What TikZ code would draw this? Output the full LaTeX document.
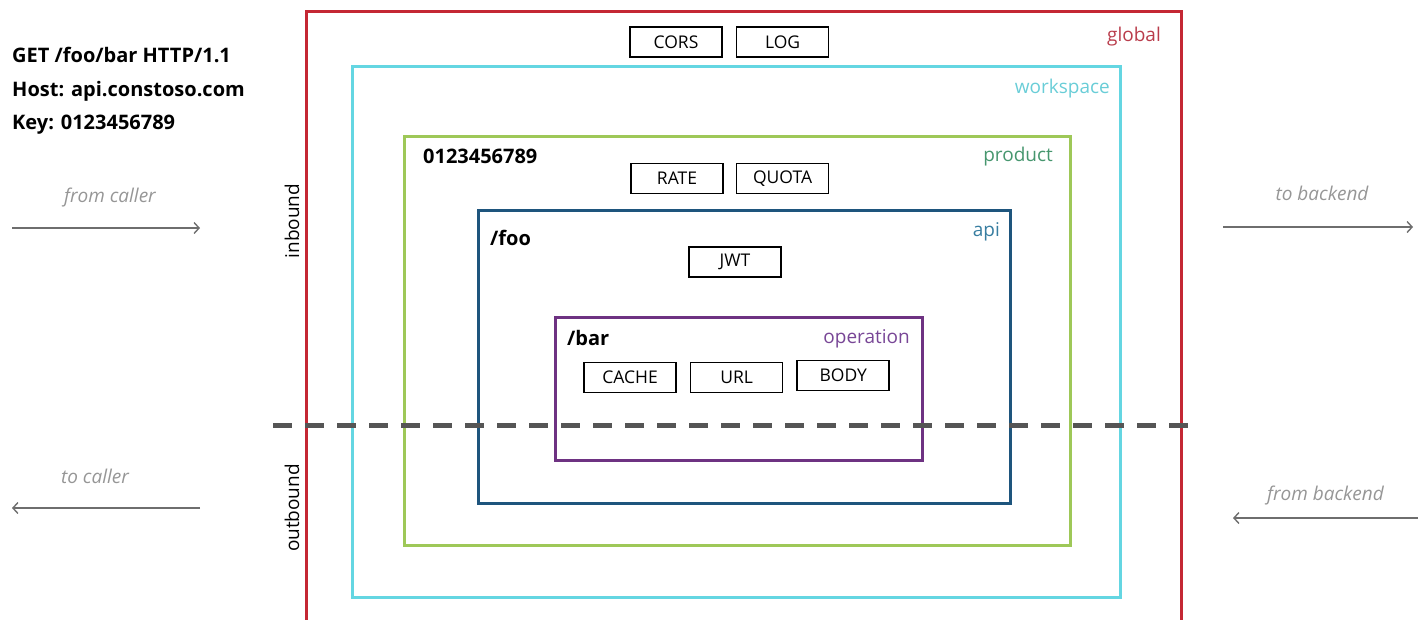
\documentclass[tikz,border=0pt]{standalone}
\usepackage{fontspec}
\setmainfont{Open Sans}
\usepackage{tikz}
\usetikzlibrary{arrows.meta, positioning}
\definecolor{globalred}{RGB}{196,40,52}
\definecolor{globaltext}{RGB}{185,60,75}
\definecolor{wscyan}{RGB}{100,214,226}
\definecolor{wstext}{RGB}{105,205,215}
\definecolor{prodgreen}{RGB}{158,200,88}
\definecolor{prodtext}{RGB}{70,150,110}
\definecolor{apiblue}{RGB}{30,85,125}
\definecolor{apitext}{RGB}{55,125,160}
\definecolor{opviolet}{RGB}{110,50,130}
\definecolor{optext}{RGB}{120,70,150}
\definecolor{flowgray}{RGB}{110,110,110}
\definecolor{flowtext}{RGB}{150,150,150}
\definecolor{stagegray}{RGB}{85,85,85}

\begin{document}
\begin{tikzpicture}[x=1pt, y=-1pt,
  scopebox/.style={line width=3pt},
  scopelbl/.style={anchor=base east, inner sep=0pt, font=\fontsize{19}{19}\selectfont},
  pathlbl/.style={anchor=base west, inner sep=0pt, font=\bfseries\fontsize{20}{20}\selectfont},
  reqlbl/.style={anchor=base west, inner sep=0pt, font=\bfseries\fontsize{20}{20}\selectfont},
  policy/.style={draw, line width=1.6pt, minimum width=92pt, minimum height=30pt,
    inner sep=0pt, font=\fontsize{17.5}{17.5}\selectfont},
  flow/.style={draw=flowgray, line width=1.4pt, -{Straight Barb[length=5pt, width=11pt]}},
  flowlbl/.style={anchor=base, inner sep=0pt, text=flowtext, font=\itshape\fontsize{19}{19}\selectfont},
  dirlbl/.style={rotate=90, inner sep=0pt, font=\fontsize{19}{19}\selectfont},
  stage/.style={draw=stagegray, line width=5pt, dash pattern=on 19pt off 13pt}
]
\useasboundingbox (0,0) rectangle (1418,619);

% request
\node[reqlbl] (reqline) at (12,62) {GET /foo/bar HTTP/1.1};
\node[reqlbl] (reqhost) at (12,96) {Host: api.constoso.com};
\node[reqlbl] (reqkey) at (12,129) {Key: 0123456789};

% scopes
\draw[scopebox, draw=globalred] (306,621) |- (1181,11) -- (1181,621);
\draw[scopebox, draw=wscyan] (352,66) rectangle (1120,597);
\draw[scopebox, draw=prodgreen] (404,136) rectangle (1070,545);
\draw[scopebox, draw=apiblue] (478,210) rectangle (1010,503);
\draw[scopebox, draw=opviolet] (555,317) rectangle (922,460);

\node[scopelbl, text=globaltext] (globallbl) at (1161,41) {global};
\node[scopelbl, text=wstext] (wslbl) at (1110,93) {workspace};
\node[scopelbl, text=prodtext] (prodlbl) at (1053,161) {product};
\node[scopelbl, text=apitext] (apilbl) at (1000,236) {api};
\node[scopelbl, text=optext] (oplbl) at (910,343) {operation};

\node[pathlbl] (prodkey) at (423,163) {0123456789};
\node[pathlbl] (apipath) at (490,245) {/foo};
\node[pathlbl] (oppath) at (567,345) {/bar};

% policies
\node[policy] (cors) at (676,42) {CORS};
\node[policy, right=13pt of cors] (log) {LOG};
\node[policy] (rate) at (677,178.5) {RATE};
\node[policy, right=12pt of rate] (quota) {QUOTA};
\node[policy] (jwt) at (735,262) {JWT};
\node[policy] (cache) at (630,377.5) {CACHE};
\node[policy, right=13pt of cache] (url) {URL};
\node[policy, right=13pt of url, yshift=2pt] (body) {BODY};

% inbound / outbound
\coordinate (stageL) at (273,425);
\coordinate (stageR) at (1197,425);
\draw[stage] (stageL) -- (stageR);
\node[dirlbl] (inlbl) at (292,221) {inbound};
\node[dirlbl] (outlbl) at (292,508) {outbound};

\coordinate (callerIn) at (12,228);
\coordinate (gwIn) at (200,228);
\coordinate (gwOut) at (1223,227);
\coordinate (backendIn) at (1413,227);
\coordinate (gwBack) at (200,508);
\coordinate (callerOut) at (12,508);
\coordinate (backendOut) at (1418,518);
\coordinate (gwRet) at (1233,518);
\draw[flow] (callerIn) -- node[flowlbl, yshift=26pt, xshift=4pt] {from caller} (gwIn);
\draw[flow] (gwOut) -- node[flowlbl, yshift=27pt, xshift=4pt] {to backend} (backendIn);
\draw[flow] (gwBack) -- node[flowlbl, yshift=25pt, xshift=-11pt] {to caller} (callerOut);
\draw[flow] (backendOut) -- node[flowlbl, yshift=18pt] {from backend} (gwRet);
\end{tikzpicture}
\end{document}
